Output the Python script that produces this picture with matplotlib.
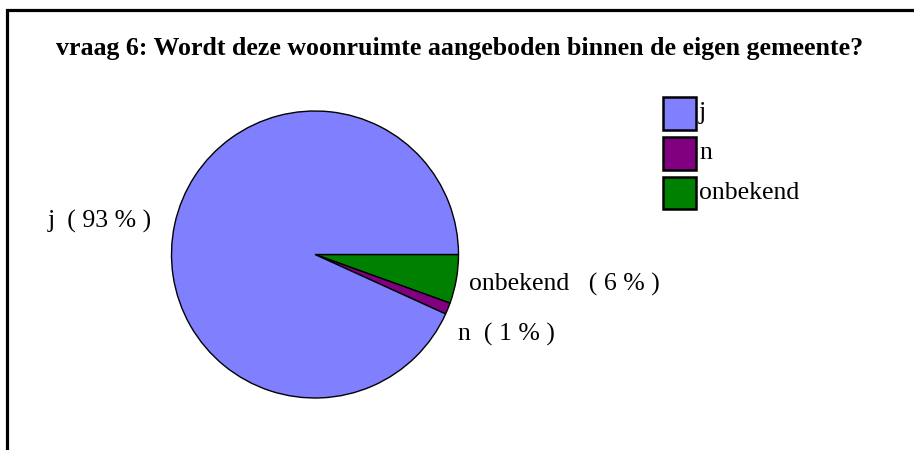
import matplotlib
matplotlib.use("Agg")
import matplotlib.pyplot as plt
from matplotlib.patches import Rectangle
from matplotlib.lines import Line2D

plt.rcParams['font.family'] = ['Liberation Serif', 'DejaVu Serif']

title = "vraag 6: Wordt deze woonruimte aangeboden binnen de eigen gemeente?"
categories = ["j", "n", "onbekend"]
values = [93.2, 1.3, 5.5]
pct_labels = ["93", "1", "6"]
colors = ["#8080FF", "#800080", "#008000"]

W, H = 914, 450
fig = plt.figure(figsize=(W / 100, H / 100), dpi=100)

def fx(px):
    return px / W

def fy(py):
    return 1 - py / H

# frame (left and top only visible)
fig.add_artist(Line2D([fx(7.5), fx(7.5), fx(914)], [0, fy(9.5), fy(9.5)],
                      transform=fig.transFigure, color="black", lw=2.3,
                      solid_joinstyle="miter"))

fig.text(fx(460), fy(49), title, ha="center", va="center",
         fontsize=18.6, fontweight="bold")

cx, cy, r = 315, 254.5, 143.5
ax = fig.add_axes([fx(cx - r), fy(cy + r), 2 * r / W, 2 * r / H])
order = [2, 1, 0]
gaps = {"j": "  ", "n": "  ", "onbekend": "   "}
wedges, texts = ax.pie([values[i] for i in order],
                       colors=[colors[i] for i in order],
                       labels=[f"{categories[i]}{gaps[categories[i]]}( {pct_labels[i]} % )" for i in order],
                       startangle=0, counterclock=False, labeldistance=1.1,
                       wedgeprops=dict(edgecolor="black", linewidth=1.0),
                       textprops=dict(fontsize=18.5))
for t in texts:
    t.set_clip_on(False)
    x, y = t.get_position()
    if t.get_text().startswith("n"):
        t.set_position((x - 0.02, y - 0.14))
    elif t.get_text().startswith("j"):
        t.set_position((x - 0.06, y))
    else:
        t.set_position((x - 0.01, y - 0.02))
ax.set_xlim(-1, 1)
ax.set_ylim(-1, 1)
ax.set_axis_off()

# legend
for i, (cat, col) in enumerate(zip(categories, colors)):
    y0 = 97 + i * 40
    fig.add_artist(Rectangle((fx(662.5), fy(y0 + 32.5)), 33 / W, 32.5 / H,
                             transform=fig.transFigure, facecolor=col,
                             edgecolor="black", lw=1.8))
    fig.text(fx(699), fy(y0 + 16), cat, ha="left", va="center", fontsize=18.5)

fig.savefig("out.png", dpi=100)
